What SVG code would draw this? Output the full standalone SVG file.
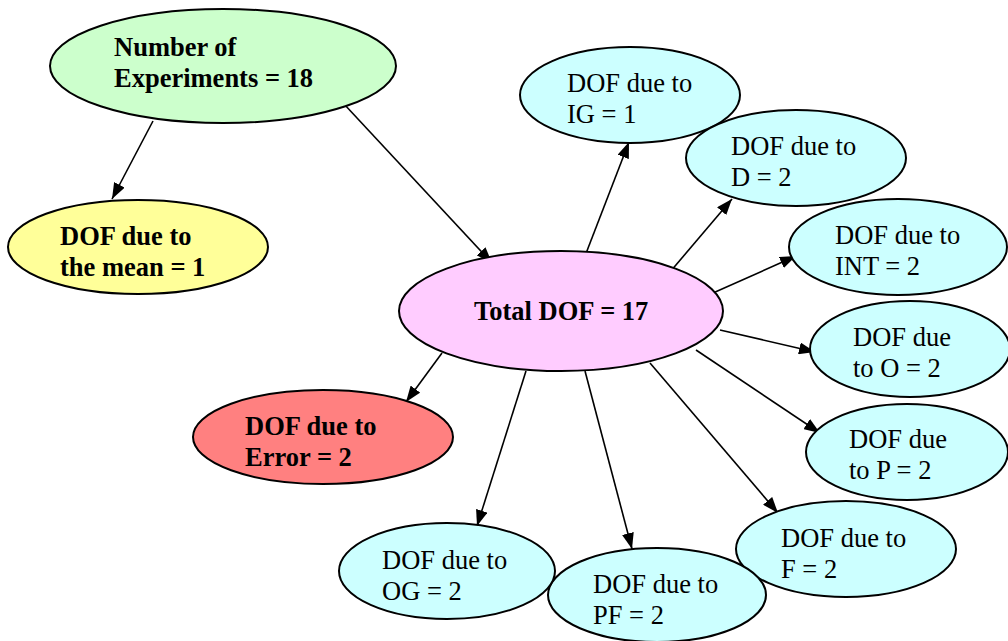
<svg xmlns="http://www.w3.org/2000/svg" width="1008" height="641" viewBox="0 0 1008 641">
<style>
ellipse{stroke:#000;stroke-width:2}
text{font-family:'Liberation Serif','Times New Roman','DejaVu Serif',serif;font-size:26.5px;fill:#000}
.b{font-weight:bold}
.cy{fill:#ccffff}
#connectors line{stroke:#000;stroke-width:1.6;marker-end:url(#ah)}
</style>
<defs>
<marker id="ah" viewBox="0 0 16 12" refX="16" refY="6" markerWidth="16" markerHeight="12" markerUnits="userSpaceOnUse" orient="auto">
<path d="M0,0 L16,6 L0,12 z" fill="#000"/>
</marker>
</defs>
<rect width="1008" height="641" fill="#fff"/>
<g id="connectors">
<line x1="153" y1="121" x2="112" y2="199"/>
<line x1="344" y1="104" x2="492" y2="263"/>
<line x1="585" y1="256" x2="629" y2="142"/>
<line x1="670" y1="272" x2="732" y2="199"/>
<line x1="713" y1="293" x2="796" y2="256"/>
<line x1="720" y1="330" x2="815" y2="352"/>
<line x1="696" y1="350" x2="820" y2="433"/>
<line x1="650" y1="363" x2="778" y2="513"/>
<line x1="585" y1="371" x2="632" y2="549"/>
<line x1="526" y1="371" x2="477" y2="526"/>
<line x1="442" y1="353" x2="406" y2="402"/>
</g>
<g id="n-experiments">
<ellipse cx="223" cy="66" rx="173" ry="57" fill="#ccffcc"/>
<text class="b" x="114" y="56">Number of</text>
<text class="b" x="114" y="87">Experiments = 18</text>
</g>
<g id="n-mean">
<ellipse cx="138" cy="247" rx="130" ry="47" fill="#ffff99"/>
<text class="b" x="60" y="245">DOF due to</text>
<text class="b" x="60" y="276">the mean = 1</text>
</g>
<g id="n-total">
<ellipse cx="561" cy="311" rx="162" ry="60" fill="#ffccff"/>
<text class="b" x="474" y="320">Total DOF = 17</text>
</g>
<g id="n-error">
<ellipse cx="323" cy="437" rx="130" ry="47" fill="#ff8080"/>
<text class="b" x="245" y="435">DOF due to</text>
<text class="b" x="245" y="466">Error = 2</text>
</g>
<g id="n-ig">
<ellipse class="cy" cx="630" cy="95" rx="110" ry="48"/>
<text x="567" y="92">DOF due to</text>
<text x="567" y="123">IG = 1</text>
</g>
<g id="n-d">
<ellipse class="cy" cx="796" cy="158" rx="110" ry="48"/>
<text x="731" y="155">DOF due to</text>
<text x="731" y="186">D = 2</text>
</g>
<g id="n-int">
<ellipse class="cy" cx="898" cy="247" rx="109" ry="48"/>
<text x="835" y="244">DOF due to</text>
<text x="835" y="275">INT = 2</text>
</g>
<g id="n-o">
<ellipse class="cy" cx="910" cy="349" rx="100" ry="48"/>
<text x="853" y="346">DOF due</text>
<text x="853" y="377">to O = 2</text>
</g>
<g id="n-p">
<ellipse class="cy" cx="907" cy="452" rx="101" ry="48"/>
<text x="849" y="448">DOF due</text>
<text x="849" y="479">to P = 2</text>
</g>
<g id="n-f">
<ellipse class="cy" cx="846" cy="549" rx="110" ry="48"/>
<text x="781" y="547">DOF due to</text>
<text x="781" y="578">F = 2</text>
</g>
<g id="n-pf">
<ellipse class="cy" cx="657" cy="595" rx="109" ry="47"/>
<text x="593" y="593">DOF due to</text>
<text x="593" y="624">PF = 2</text>
</g>
<g id="n-og">
<ellipse class="cy" cx="447" cy="571" rx="108" ry="48"/>
<text x="382" y="569">DOF due to</text>
<text x="382" y="600">OG = 2</text>
</g>
</svg>
